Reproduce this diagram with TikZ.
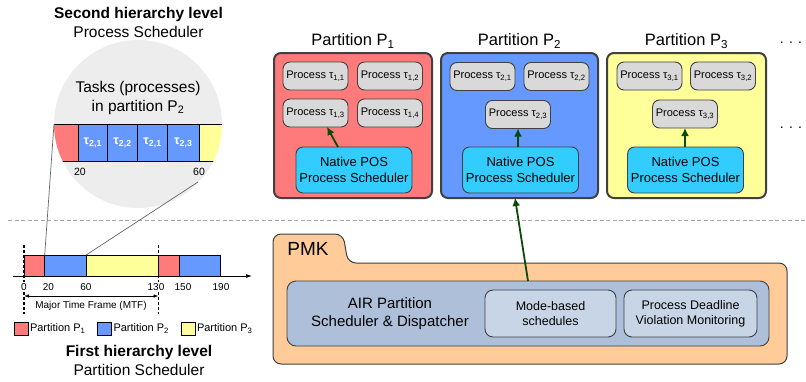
\documentclass[tikz,border=0pt]{standalone}
\usepackage{fontspec}
\setmainfont{Liberation Sans}
\usetikzlibrary{arrows.meta}
\definecolor{pred}{HTML}{FF7B7B}
\definecolor{pblue}{HTML}{6699FF}
\definecolor{pyellow}{HTML}{FFFF99}
\definecolor{pgray}{HTML}{D9D9D9}
\definecolor{pcyan}{HTML}{33CCFF}
\definecolor{porange}{HTML}{FFCC99}
\definecolor{psteel}{HTML}{ADBFD9}
\definecolor{psteellt}{HTML}{C8D5E6}
\definecolor{pgreen}{HTML}{0B4A0B}
\definecolor{pborder}{HTML}{404040}
\definecolor{circgray}{HTML}{EDEDED}
\newcommand{\fs}[1]{\fontsize{#1pt}{\dimexpr #1pt*6/5\relax}\selectfont}
\begin{document}
\begin{tikzpicture}[x=1pt,y=-1pt,
  every node/.style={inner sep=0pt, outer sep=0pt},
  partbox/.style={draw=pborder, line width=2pt, rounded corners=7pt, minimum width=#1, minimum height=145pt},
  ptitle/.style={font=\fs{16.5}},
  proc/.style={draw=pborder, line width=0.9pt, fill=pgray, rounded corners=7pt, minimum width=65pt, minimum height=28pt, font=\fs{11}},
  native/.style={draw=pborder, line width=0.9pt, fill=pcyan, rounded corners=7pt, minimum width=116pt, minimum height=46pt, align=center, font=\fs{13}},
  garrow/.style={draw=pgreen, line width=1.8pt, -{Latex[length=8pt,width=8pt]}},
  subbox/.style={draw=pborder, line width=0.9pt, fill=psteellt, rounded corners=8pt, minimum height=47pt, align=center, font=\fs{12.5}},
  cell/.style={draw=black, line width=0.8pt},
  tlcell/.style={draw=black, line width=0.8pt},
  tick/.style={font=\fs{10}},
  mtfdash/.style={draw=black, line width=1.6pt, dash pattern=on 3pt off 2pt},
  zoomline/.style={draw=gray!80!black, line width=0.7pt},
  legsq/.style={draw=black, line width=0.8pt, minimum width=14pt, minimum height=13pt},
  legtxt/.style={font=\fs{11}, anchor=west},
  tau/.style={font=\bfseries\fs{12.5}, text=white}
]
\useasboundingbox (0,0) rectangle (806,381);

% ---------- top-left titles
\node[font=\bfseries\fs{15.5}] (sectitle) at (138.5,14) {Second hierarchy level};
\node[font=\fs{15.5}] (secsub) at (138.5,32) {Process Scheduler};

% ---------- zoom circle
\node[circle, fill=circgray, minimum size=168pt] (zoomc) at (138,124) {};
\begin{scope}
  \clip (138,124) circle (84pt);
  \fill[pred] (40,124) rectangle (78,161);
  \fill[pblue] (78,124) rectangle (199,161);
  \fill[pyellow] (199,124) rectangle (240,161);
  \draw[cell] (40,124) -- (240,124);
  \draw[cell] (40,161) -- (240,161);
  \draw[cell] (78,124) -- (78,161);
  \draw[cell] (107.5,124) -- (107.5,161);
  \draw[cell] (137.5,124) -- (137.5,161);
  \draw[cell] (167.5,124) -- (167.5,161);
  \draw[cell] (199,124) -- (199,161);
\end{scope}
\node[tau] (ta) at (92.75,143) {τ\textsubscript{2,1}};
\node[tau] (tb) at (122.5,143) {τ\textsubscript{2,2}};
\node[tau] (tc) at (152.5,143) {τ\textsubscript{2,1}};
\node[tau] (td) at (183.25,143) {τ\textsubscript{2,3}};
\node[font=\fs{15.5}, align=center] (tasks) at (138,98) {Tasks (processes)\\in partition P\textsubscript{2}};
\node[font=\fs{10.5}] (z20) at (80,172) {20};
\node[font=\fs{10.5}] (z60) at (199,172) {60};

% ---------- separator
\draw[draw=gray!70, line width=1pt, dash pattern=on 4pt off 2.5pt] (8,220) -- (806,220);

% ---------- timeline
\coordinate (t0) at (24,276);
\coordinate (t20) at (44.7,276);
\coordinate (t60) at (86.1,276);
\coordinate (t130) at (158.6,276);
\coordinate (t150) at (179.3,276);
\coordinate (t190) at (220.7,276);
\filldraw[tlcell, fill=pred] (24,255) rectangle (44.7,276);
\filldraw[tlcell, fill=pblue] (44.7,255) rectangle (86.1,276);
\filldraw[tlcell, fill=pyellow] (86.1,255) rectangle (158.6,276);
\filldraw[tlcell, fill=pred] (158.6,255) rectangle (179.3,276);
\filldraw[tlcell, fill=pblue] (179.3,255) rectangle (220.7,276);
\coordinate (axs) at (13,276);
\coordinate (axe) at (252,276);
\draw[line width=0.8pt, -{Latex[length=6pt,width=4pt]}] (axs) -- (axe);
\draw[mtfdash] (24,245) -- (24,282);
\draw[mtfdash] (24,292) -- (24,314);
\draw[mtfdash] (158.6,245) -- (158.6,282);
\draw[mtfdash] (158.6,292) -- (158.6,314);
\node[tick] (l0) at (24,287.5) {0};
\node[tick] (l20) at (48.5,287.5) {20};
\node[tick] (l60) at (86,287.5) {60};
\node[tick] (l130) at (156,287.5) {130};
\node[tick] (l150) at (183,287.5) {150};
\node[tick] (l190) at (221,287.5) {190};
\coordinate (mtfa) at (24,296);
\coordinate (mtfb) at (158.6,296);
\draw[line width=0.7pt, {Latex[length=5pt,width=3.5pt]}-{Latex[length=5pt,width=3.5pt]}] (mtfa) -- (mtfb);
\node[font=\fs{10}] (mtf) at (91,306) {Major Time Frame (MTF)};

% zoom lines
\draw[zoomline] (54,124) -- (t20 |- 0,255);
\draw[zoomline] (198,182) -- (t60 |- 0,255);

% legend
\node[legsq, fill=pred] (lg1) at (21,328.5) {};
\node[legtxt] (lt1) at (30,328.5) {Partition P\textsubscript{1}};
\node[legsq, fill=pblue] (lg2) at (104.5,328.5) {};
\node[legtxt] (lt2) at (113.5,328.5) {Partition P\textsubscript{2}};
\node[legsq, fill=pyellow] (lg3) at (188,328.5) {};
\node[legtxt] (lt3) at (197,328.5) {Partition P\textsubscript{3}};

\node[font=\bfseries\fs{15.5}] (firsttitle) at (139,352) {First hierarchy level};
\node[font=\fs{15.5}] (firstsub) at (139,370) {Partition Scheduler};

% ---------- partitions
\node[partbox=158pt, fill=pred] (p1) at (353,125.5) {};
\node[partbox=157pt, fill=pblue] (p2) at (519.5,125.5) {};
\node[partbox=159pt, fill=pyellow] (p3) at (686.5,125.5) {};
\node[ptitle] (p1t) at (353,41) {Partition P\textsubscript{1}};
\node[ptitle] (p2t) at (519.5,41) {Partition P\textsubscript{2}};
\node[ptitle] (p3t) at (686.5,41) {Partition P\textsubscript{3}};
\node[font=\fs{14}] (dots1) at (791,43) {. . .};
\node[font=\fs{14}] (dots2) at (791,128) {. . .};

\node[proc] (t11) at (315.5,76) {Process τ\textsubscript{1,1}};
\node[proc] (t12) at (390,76) {Process τ\textsubscript{1,2}};
\node[proc] (t13) at (315.5,113) {Process τ\textsubscript{1,3}};
\node[proc] (t14) at (390,113) {Process τ\textsubscript{1,4}};
\node[native] (n1) at (354,170) {Native POS\\Process Scheduler};
\draw[garrow] ([xshift=-16pt]n1.north) -- ([xshift=11.5pt]t13.south);

\node[proc] (t21) at (482.5,76.5) {Process τ\textsubscript{2,1}};
\node[proc] (t22) at (556.5,76.5) {Process τ\textsubscript{2,2}};
\node[proc] (t23) at (518,114.5) {Process τ\textsubscript{2,3}};
\node[native] (n2) at (520.5,170) {Native POS\\Process Scheduler};
\draw[garrow] (n2.north -| t23.south) -- (t23.south);

\node[proc] (t31) at (649.5,76) {Process τ\textsubscript{3,1}};
\node[proc] (t32) at (723,76) {Process τ\textsubscript{3,2}};
\node[proc] (t33) at (685,114) {Process τ\textsubscript{3,3}};
\node[native] (n3) at (685.5,170) {Native POS\\Process Scheduler};
\draw[garrow] (n3.north -| t33.south) -- (t33.south);

% ---------- PMK
\filldraw[draw=pborder, line width=1pt, fill=porange, rounded corners=8pt]
  (273,364) -- (273,234) -- (343,234) -- (348,263) -- (787,263) -- (787,364) -- cycle;
\node[font=\fs{19}] (pmk) at (308,249) {PMK};
\node[draw=pborder, line width=0.9pt, fill=psteel, rounded corners=9pt, minimum width=482pt, minimum height=65pt] (air) at (528,313.5) {};
\node[font=\fs{15}, align=center] (airt) at (390,313.5) {AIR Partition\\Scheduler \& Dispatcher};
\node[subbox, minimum width=131pt] (mode) at (550.5,313.5) {Mode-based\\schedules};
\node[subbox, minimum width=133pt] (pdvm) at (690.5,313.5) {Process Deadline\\Violation Monitoring};
\draw[garrow] (air.north) -- ([xshift=-4.5pt]p2.south);
\end{tikzpicture}
\end{document}
